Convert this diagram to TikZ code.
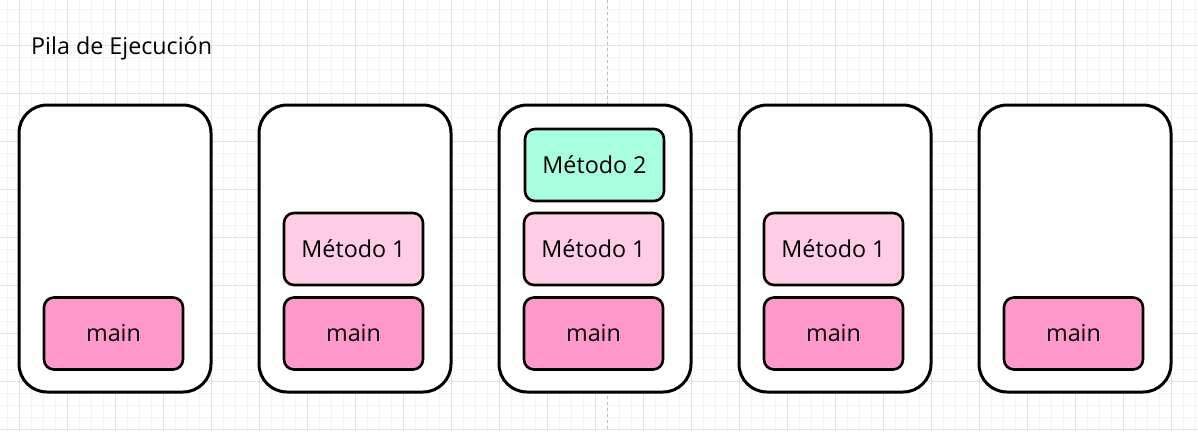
\documentclass[tikz,border=0pt]{standalone}
\usepackage{fontspec}
\setmainfont{Open Sans}
\usepackage{tikz}
\usetikzlibrary{positioning}

\definecolor{gridminor}{HTML}{F3F3F3}
\definecolor{gridmajor}{HTML}{E2E2E2}
\definecolor{pagebreak}{HTML}{BDBDBD}
\definecolor{mainpink}{HTML}{FF99CC}
\definecolor{metodopink}{HTML}{FFCCE6}
\definecolor{metodogreen}{HTML}{A8FFE0}

\tikzset{
  frame/.style={draw=black, line width=3pt, fill=white, rounded corners=28pt,
    minimum width=192pt, minimum height=287pt, inner sep=0pt},
  slot/.style={draw=black, line width=2.6pt, rounded corners=10pt,
    minimum width=139pt, minimum height=72pt, inner sep=0pt,
    font=\fontsize{23.3}{28}\selectfont},
  mainslot/.style={slot, fill=mainpink},
  metodoslot/.style={slot, fill=metodopink},
  toslot/.style={slot, fill=metodogreen},
}

\begin{document}
\begin{tikzpicture}[x=1pt, y=-1pt]
		%%%%% GRID %%%%%
		\useasboundingbox (0,0) rectangle (1198,431);
		\fill[white] (0,0) rectangle (1198,431);
		\foreach \x in {7,19,...,1195} \draw[gridminor, line width=1pt] (\x,0) -- (\x,431);
		\foreach \y in {9,21,...,429} \draw[gridminor, line width=1pt] (0,\y) -- (1198,\y);
		\foreach \x in {19,67,...,1171} \draw[gridmajor, line width=1pt] (\x,0) -- (\x,431);
		\foreach \y in {45,93,...,429} \draw[gridmajor, line width=1pt] (0,\y) -- (1198,\y);
		\draw[pagebreak, line width=1pt, dash pattern=on 3pt off 3pt] (607,0) -- (607,431);
		
		%%%%% TITLE %%%%%
		\node[anchor=base west, inner sep=0pt, font=\fontsize{23.3}{28}\selectfont] (title) at (31,54) {Pila de Ejecución};
		
		%%%%% FRAMES %%%%%
		\node[frame] (f1) at (115,248.5) {};
		\node[frame] (f2) at (355,248.5) {};
		\node[frame] (f3) at (595,248.5) {};
		\node[frame] (f4) at (835,248.5) {};
		\node[frame] (f5) at (1075,248.5) {};
		
		%%%%% STACK %%%%%
		\node[mainslot] (main1) at (113.5,333.5) {main};
		
		\node[mainslot] (main2) at (353.5,333.5) {main};
		\node[metodoslot] (met2) at (353.5,249) {Método 1};
		
		\node[mainslot] (main3) at (593.5,333.5) {main};
		\node[metodoslot] (met3) at (593.5,249) {Método 1};
		\node[toslot] (dos3) at (594.5,165) {Método 2};
		
		\node[mainslot] (main4) at (833.5,333.5) {main};
		\node[metodoslot] (met4) at (833.5,249) {Método 1};
		
		\node[mainslot] (main5) at (1073.5,333.5) {main};
		
	\end{tikzpicture}
\end{document}
